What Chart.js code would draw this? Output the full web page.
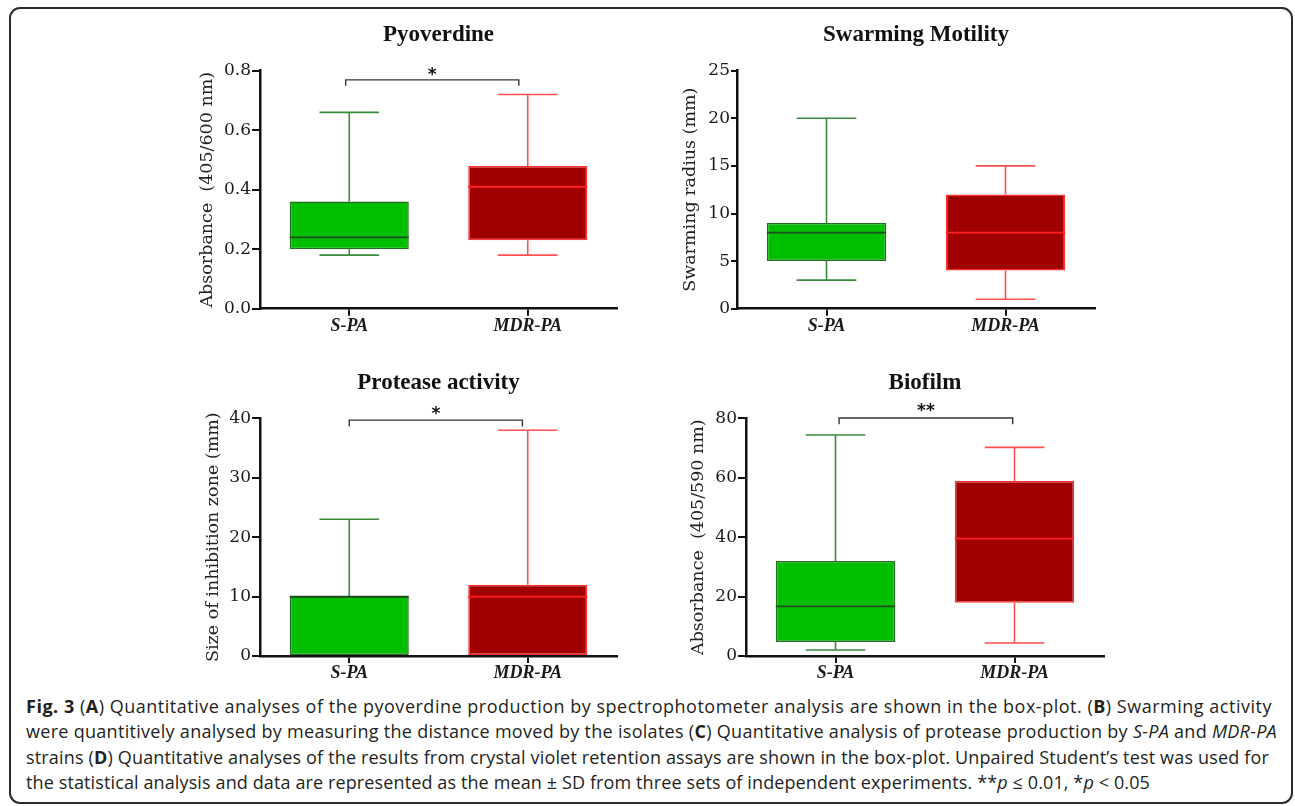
<!DOCTYPE html>
<html>
<head>
<meta charset="utf-8">
<script src="https://cdn.jsdelivr.net/npm/chart.js@4.4.0/dist/chart.umd.min.js"></script>
<style>
html,body{margin:0;padding:0;background:#fff;}
body{width:1295px;height:806px;position:relative;overflow:hidden;}
#frame{position:absolute;left:9px;top:7px;width:1284px;height:797px;border:2px solid #2b2b2b;border-radius:11px;box-sizing:border-box;}
.wrap{position:absolute;}
#caption{position:absolute;left:26px;top:694px;font-family:'Open Sans',sans-serif;font-size:18px;line-height:25.3px;color:#231f20;white-space:nowrap;}
#caption b{font-weight:700;}
</style>
</head>
<body>
<div id="frame"></div>
<div class="wrap" style="left:0;top:0;"><canvas id="cA" width="650" height="345"></canvas></div>
<div class="wrap" style="left:600px;top:0;"><canvas id="cB" width="695" height="345"></canvas></div>
<div class="wrap" style="left:0;top:345px;"><canvas id="cC" width="650" height="345"></canvas></div>
<div class="wrap" style="left:600px;top:345px;"><canvas id="cD" width="695" height="345"></canvas></div>
<div id="caption">
<div><span class="ln"><b>Fig. 3</b> (<b>A</b>) Quantitative analyses of the pyoverdine production by spectrophotometer analysis are shown in the box-plot. (<b>B</b>) Swarming activity</span></div>
<div><span class="ln">were quantitively analysed by measuring the distance moved by the isolates (<b>C</b>) Quantitative analysis of protease production by <i>S-PA</i> and <i>MDR-PA</i></span></div>
<div><span class="ln">strains (<b>D</b>) Quantitative analyses of the results from crystal violet retention assays are shown in the box-plot. Unpaired Student’s test was used for</span></div>
<div><span class="ln">the statistical analysis and data are represented as the mean ± SD from three sets of independent experiments. **<i>p</i> ≤ 0.01, *<i>p</i> &lt; 0.05</span></div>
</div>
<script>
// ---------- DATA ----------
const categories = ['S-PA', 'MDR-PA'];

// Pyoverdine
const pyoMin = [0.18, 0.18];
const pyoQ1  = [0.20, 0.23];
const pyoMed = [0.24, 0.41];
const pyoQ3  = [0.36, 0.48];
const pyoMax = [0.66, 0.72];
const pyoTicks = [0, 0.2, 0.4, 0.6, 0.8];

// Swarming motility
const swMin = [3, 1];
const swQ1  = [5, 4];
const swMed = [8, 8];
const swQ3  = [9, 12];
const swMax = [20, 15];
const swTicks = [0, 5, 10, 15, 20, 25];

// Protease activity
const prMin = [0, 0];
const prQ1  = [0, 0];
const prMed = [10, 10];
const prQ3  = [10, 12];
const prMax = [23, 38];
const prTicks = [0, 10, 20, 30, 40];

// Biofilm
const bfMin = [2.0, 4.4];
const bfQ1  = [4.7, 17.9];
const bfMed = [16.7, 39.5];
const bfQ3  = [32.0, 58.9];
const bfMax = [74.4, 70.2];
const bfTicks = [0, 20, 40, 60, 80];

// Significance brackets: [from category, to category, bracket y, drop y, label y, label]
const pyoSig = [-0.02, 0.95, 0.769, 0.749, 0.80, '*'];
const prSig  = [0.0, 0.97, 39.7, 38.6, 41.4, '*'];
const bfSig  = [0.02, 0.99, 80.1, 78.0, 83.9, '**'];

// ---------- STYLE ----------
const fillColors    = ['#00bf00', '#a00000'];
const borderColors  = ['#236b23', '#ff3030'];
const whiskerColors = ['#3a8a3a', '#ff5050'];
const medianColors  = ['#1c4f1c', '#ff2020'];

const boxPlugin = {
  id: 'boxWhiskers',
  afterDatasetsDraw(chart) {
    const ds = chart.data.datasets[0];
    const meta = chart.getDatasetMeta(0);
    const y = chart.scales.y;
    const ctx = chart.ctx;
    ctx.save();
    ctx.lineCap = 'butt';
    meta.data.forEach((bar, i) => {
      const cx = bar.x, w = bar.width;
      const pMin = y.getPixelForValue(ds.wMin[i]);
      const pMax = y.getPixelForValue(ds.wMax[i]);
      const pQ1 = y.getPixelForValue(ds.q1[i]);
      const pQ3 = y.getPixelForValue(ds.q3[i]);
      const pMed = y.getPixelForValue(ds.med[i]);
      ctx.strokeStyle = whiskerColors[i];
      ctx.lineWidth = 1.6;
      ctx.beginPath();
      if (ds.wMax[i] > ds.q3[i]) {
        ctx.moveTo(cx, pQ3); ctx.lineTo(cx, pMax);
        ctx.moveTo(cx - w / 4, pMax); ctx.lineTo(cx + w / 4, pMax);
      }
      if (ds.wMin[i] < ds.q1[i]) {
        ctx.moveTo(cx, pQ1); ctx.lineTo(cx, pMin);
        ctx.moveTo(cx - w / 4, pMin); ctx.lineTo(cx + w / 4, pMin);
      }
      ctx.stroke();
      ctx.strokeStyle = medianColors[i];
      ctx.lineWidth = 1.8;
      ctx.beginPath();
      ctx.moveTo(cx - w / 2, pMed); ctx.lineTo(cx + w / 2, pMed);
      ctx.stroke();
    });
    ctx.restore();
  }
};

const sigPlugin = {
  id: 'sigBracket',
  afterDraw(chart, args, opts) {
    const s = opts && opts.sig;
    if (!s) return;
    const x = chart.scales.x, y = chart.scales.y, ctx = chart.ctx;
    const x1 = x.getPixelForValue(s[0]), x2 = x.getPixelForValue(s[1]);
    const yb = y.getPixelForValue(s[2]), yd = y.getPixelForValue(s[3]);
    ctx.save();
    ctx.strokeStyle = '#333';
    ctx.lineWidth = 1.4;
    ctx.beginPath();
    ctx.moveTo(x1, yd); ctx.lineTo(x1, yb); ctx.lineTo(x2, yb); ctx.lineTo(x2, yd);
    ctx.stroke();
    ctx.fillStyle = '#111';
    ctx.font = 'bold 17px "DejaVu Sans"';
    ctx.textAlign = 'center';
    ctx.textBaseline = 'alphabetic';
    ctx.fillText(s[5], (x1 + x2) / 2, y.getPixelForValue(s[4]) + 9.5);
    ctx.restore();
  }
};

const TITLE_FS = 23, TITLE_LH = TITLE_FS * 1.2;
const YT_FS = 17.5, YT_LH = YT_FS * 1.2;
const YW = 110;

function makePanel(id, g, title, yTitle, ticks, decimals, mn, q1, md, q3, mx, sig) {
  const padLeft = g.L - g.cx - YW;
  const padRight = g.cx + g.cw - g.R;
  const tPadTop = g.titleY - g.cy - TITLE_LH / 2;
  const tPadBottom = g.T - g.cy - tPadTop - TITLE_LH;
  const xH = g.cy + g.ch - g.B;
  const ytPad = g.yTitleX - (g.L - YW) - YT_LH / 2;
  return new Chart(document.getElementById(id), {
    type: 'bar',
    data: {
      labels: categories,
      datasets: [{
        data: q1.map((v, i) => [v, q3[i]]),
        q1: q1, q3: q3, med: md, wMin: mn, wMax: mx,
        backgroundColor: fillColors,
        borderColor: borderColors,
        borderWidth: 1.5,
        borderSkipped: false,
        categoryPercentage: 1.0,
        barPercentage: 0.667
      }]
    },
    options: {
      responsive: false,
      animation: false,
      layout: { padding: { left: padLeft, right: padRight, top: 0, bottom: 0 } },
      plugins: {
        legend: { display: false },
        tooltip: { enabled: false },
        title: {
          display: true, text: title, fullSize: false,
          color: '#111',
          font: { family: '"Liberation Serif"', size: TITLE_FS, weight: 'bold', lineHeight: 1.2 },
          padding: { top: tPadTop, bottom: tPadBottom }
        },
        sigBracket: { sig: sig }
      },
      scales: {
        x: {
          type: 'category',
          offset: true,
          grid: { display: true, drawOnChartArea: false, drawTicks: true, tickLength: 7, color: '#111', lineWidth: 2, offset: false },
          border: { display: true, color: '#111', width: 2.5 },
          ticks: { color: '#1a1a1a', padding: 0, font: { family: '"Liberation Serif"', size: 18, weight: 'bold', style: 'italic' } },
          afterFit: (s) => { s.height = xH; }
        },
        y: {
          min: ticks[0], max: ticks[ticks.length - 1],
          afterBuildTicks: (s) => { s.ticks = ticks.map(v => ({ value: v })); },
          grid: { display: true, drawOnChartArea: false, drawTicks: true, tickLength: g.tl, color: '#111', lineWidth: 2 },
          border: { display: true, color: '#111', width: 2.5 },
          ticks: {
            color: '#1a1a1a', padding: 1,
            font: { family: '"DejaVu Serif"', size: 17 },
            callback: (v) => Number(v).toFixed(decimals)
          },
          title: {
            display: true, text: yTitle, color: '#222',
            font: { family: '"DejaVu Serif"', size: YT_FS, lineHeight: 1.2 },
            padding: { top: ytPad, bottom: 0 }
          },
          afterFit: (s) => { s.width = YW; }
        }
      }
    },
    plugins: [boxPlugin, sigPlugin]
  });
}

makePanel('cA', { cx: 0, cy: 0, cw: 650, ch: 345, L: 260, R: 617, T: 70.7, B: 308.7, titleY: 35, yTitleX: 207, tl: 8 },
  'Pyoverdine', 'Absorbance  (405/600 nm)', pyoTicks, 1, pyoMin, pyoQ1, pyoMed, pyoQ3, pyoMax, pyoSig);
makePanel('cB', { cx: 600, cy: 0, cw: 695, ch: 345, L: 737, R: 1095, T: 70.7, B: 308.7, titleY: 35, yTitleX: 690, tl: 6 },
  'Swarming Motility', 'Swarming radius (mm)', swTicks, 0, swMin, swQ1, swMed, swQ3, swMax, null);
makePanel('cC', { cx: 0, cy: 345, cw: 650, ch: 345, L: 260, R: 617, T: 418.3, B: 656, titleY: 383, yTitleX: 213, tl: 8 },
  'Protease activity', 'Size of inhibition zone (mm)', prTicks, 0, prMin, prQ1, prMed, prQ3, prMax, prSig);
makePanel('cD', { cx: 600, cy: 345, cw: 695, ch: 345, L: 746, R: 1104, T: 418.3, B: 656, titleY: 383, yTitleX: 698, tl: 8 },
  'Biofilm', 'Absorbance  (405/590 nm)', bfTicks, 0, bfMin, bfQ1, bfMed, bfQ3, bfMax, bfSig);

// fit caption lines to the reference line lengths
const lineEnds = [1272, 1277, 1269, 1150];
document.querySelectorAll('#caption .ln').forEach((el, i) => {
  const w = el.getBoundingClientRect().width;
  const n = el.textContent.length;
  const ls = (lineEnds[i] - 26 - w) / n;
  el.style.letterSpacing = ls.toFixed(3) + 'px';
});
</script>
</body>
</html>
